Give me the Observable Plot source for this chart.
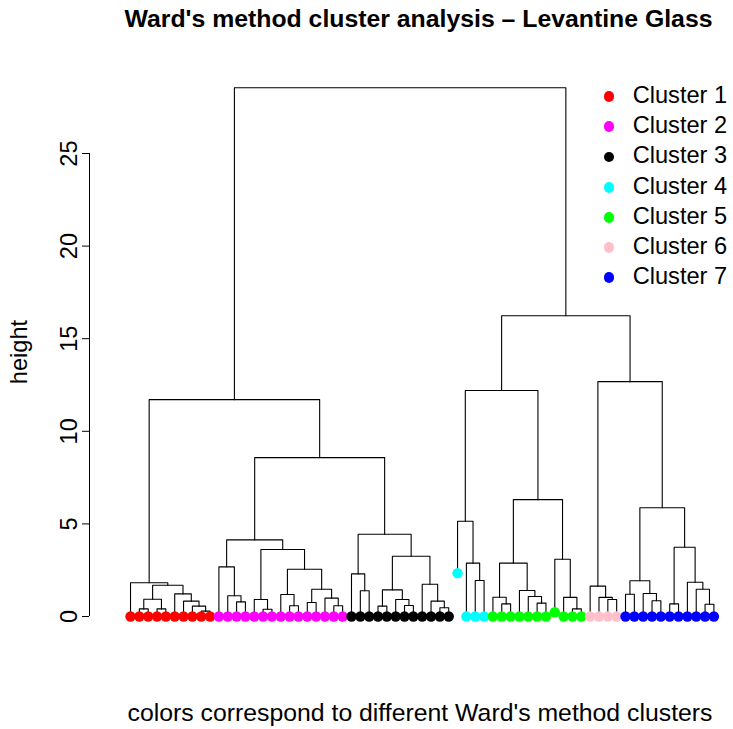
<!DOCTYPE html>
<html><head><meta charset="utf-8">
<script src="https://cdn.jsdelivr.net/npm/d3@7"></script>
<script src="https://cdn.jsdelivr.net/npm/@observablehq/plot@0.6"></script>
<style>
body{margin:0;background:#fff;font-family:"Liberation Sans",Arial,Helvetica,sans-serif;}
#wrap{position:relative;width:733px;height:729px;overflow:hidden;background:#fff;}
#wrap svg{position:absolute;left:0;top:0;}
.t{position:absolute;white-space:nowrap;line-height:1;color:#000;}
.dot{position:absolute;border-radius:50%;}
</style></head><body><div id="wrap"></div>
<script>
// ---------- text ----------
const titleText = "Ward's method cluster analysis \u2013 Levantine Glass";
const xLabel = "colors correspond to different Ward's method clusters";
const yLabel = "height";
const clusterNames = ["Cluster 1","Cluster 2","Cluster 3","Cluster 4","Cluster 5","Cluster 6","Cluster 7"];
const clusterColors = ["#FF0000","#FF00FF","#000000","#00FFFF","#00FF00","#FFC0CB","#0000FF"];
const yTicks = [0, 5, 10, 15, 20, 25];

// ---------- leaves (left to right) ----------
const leafCluster = [
  1,1,1,1,1,1,1,1,1,1,
  2,2,2,2,2,2,2,2,2,2,2,2,2,2,2,
  3,3,3,3,3,3,3,3,3,3,3,3,
  4,4,4,4,
  5,5,5,5,5,5,5,5,5,5,5,
  6,6,6,6,
  7,7,7,7,7,7,7,7,7,7,7
];
const leafHeight = [
  0,0,0,0,0,0,0,0,0,0,
  0,0,0,0,0,0,0,0,0,0,0,0,0,0,0,
  0,0,0,0,0,0,0,0,0,0,0,0,
  2.34,0,0,0,
  0,0,0,0,0,0,0,0.23,0,0,0,
  0,0,0,0,
  0,0,0,0,0,0,0,0,0,0,0
];

// ---------- merges (R hclust style: negative = leaf -(index+1), positive = merge row) ----------
const merges = [
  [-2,-3],[-4,-5],[1,2],[-9,-10],[-8,4],[-7,5],[-6,6],[3,7],[-1,8],
  [-13,-14],[-12,10],[-11,11],[-16,-17],[-15,13],[-19,-20],[-18,15],[-21,-22],[-24,-25],[-23,18],[17,19],[16,20],[14,21],[12,22],
  [-27,-28],[-26,24],[-29,-30],[-32,-33],[-31,27],[26,28],[-36,-37],[-35,30],[-34,31],[29,32],[25,33],
  [23,34],[9,35],
  [-40,-41],[-39,37],[-38,38],
  [-43,-44],[-42,40],[-47,-48],[-46,42],[-45,43],[41,44],[-51,-52],[-50,46],[-49,47],[45,48],[39,49],
  [-55,-56],[-54,51],[-53,52],
  [-57,-58],[-60,-61],[-59,55],[54,56],[-62,-63],[-66,-67],[-65,59],[-64,60],[58,61],[57,62],[53,63],
  [50,64],[36,65]
];
const mergeHeight = [
  0.41,0.41,0.93,0.29,0.56,0.83,1.22,1.69,1.82,
  0.79,1.12,2.68,0.39,0.92,0.58,1.19,0.76,0.58,0.99,1.47,2.55,3.62,4.14,
  1.39,2.30,0.56,0.59,0.92,1.44,0.47,0.83,1.74,3.25,4.44,
  8.58,11.71,
  1.94,2.88,5.14,
  0.68,1.04,0.72,1.08,1.40,2.88,0.41,1.03,3.09,6.31,12.20,
  0.92,1.03,1.64,
  1.20,0.85,1.24,1.93,0.68,0.66,1.47,1.85,3.74,5.87,
  12.68,16.24,28.55
];

// ---------- build dendrogram geometry in data space ----------
const nodeX = [];
const segRows = [];
function pos(id) {
  return id < 0 ? {x: -id - 1, h: leafHeight[-id - 1]} : {x: nodeX[id - 1], h: mergeHeight[id - 1]};
}
merges.forEach(([a, b], k) => {
  const A = pos(a), B = pos(b), h = mergeHeight[k];
  nodeX[k] = (A.x + B.x) / 2;
  segRows.push({node: k, x: A.x, y: A.h}, {node: k, x: A.x, y: h}, {node: k, x: B.x, y: h}, {node: k, x: B.x, y: B.h});
});
const leaves = leafCluster.map((c, i) => ({i, c, h: leafHeight[i]}));

const xDomain = [-4.64, leafCluster.length - 1];
const FONT = '"Liberation Sans", Arial, Helvetica, sans-serif';

const chart = Plot.plot({
  width: 733, height: 729,
  marginLeft: 89, marginRight: 19.6, marginTop: 153, marginBottom: 113,
  x: {domain: xDomain, axis: null},
  y: {domain: [yTicks[0], yTicks[yTicks.length - 1]]},
  style: {fontFamily: FONT, fontSize: "23.6px", background: "white", color: "black", overflow: "visible"},
  marks: [
    Plot.ruleX([xDomain[0]], {y1: yTicks[0], y2: yTicks[yTicks.length - 1], stroke: "black", strokeWidth: 1}),
    Plot.axisY({ticks: yTicks, tickSize: 7, tickPadding: 6, tickRotate: -90, label: null, fontSize: 23.6}),
    Plot.line(segRows, {x: "x", y: "y", z: "node", stroke: "black", strokeWidth: 1.1, curve: "linear"}),
    Plot.dot(leaves, {x: "i", y: "h", fill: d => clusterColors[d.c - 1], r: 5.2, stroke: null})
  ]
});

const wrap = document.getElementById("wrap");
wrap.appendChild(chart);

function addText(txt, style) {
  const d = document.createElement("div");
  d.className = "t";
  d.textContent = txt;
  Object.assign(d.style, style);
  wrap.appendChild(d);
  return d;
}
// title
addText(titleText, {left: "418.5px", top: "7px", fontSize: "24.8px", fontWeight: "bold", transform: "translateX(-50%)"});
// x label
addText(xLabel, {left: "420px", top: "701px", fontSize: "24.8px", transform: "translateX(-50%)"});
// y label
addText(yLabel, {left: "20px", top: "351.5px", fontSize: "23.6px", transform: "translate(-50%,-50%) rotate(-90deg)"});
// legend
clusterNames.forEach((name, k) => {
  const cy = 96.7 + k * 30.17;
  const dot = document.createElement("div");
  dot.className = "dot";
  Object.assign(dot.style, {left: (609 - 5.4) + "px", top: (cy - 5.4) + "px", width: "10.8px", height: "10.8px", background: clusterColors[k]});
  wrap.appendChild(dot);
  addText(name, {left: "632.7px", top: (cy - 12.6) + "px", fontSize: "23.6px"});
});
</script></body></html>
